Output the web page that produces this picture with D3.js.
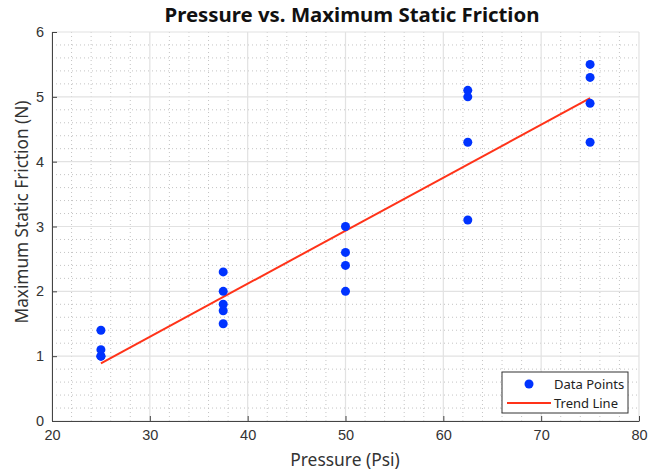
<!DOCTYPE html>
<html lang="en">
<head>
<meta charset="UTF-8">
<title>Pressure vs. Maximum Static Friction</title>
<script src="https://cdn.jsdelivr.net/npm/d3@7"></script>
<style>
  body { margin: 0; background: #fff; }
  svg { font-family: "Noto Sans", "Open Sans", sans-serif; }
</style>
</head>
<body>
<div id="chart"></div>
<script>
// data
const pressure = [25, 25, 25, 25, 37.5, 37.5, 37.5, 37.5, 37.5, 50, 50, 50, 50, 62.5, 62.5, 62.5, 62.5, 75, 75, 75, 75];
const friction = [1.0, 1.0, 1.1, 1.4, 1.5, 1.7, 1.8, 2.0, 2.3, 2.0, 2.4, 2.6, 3.0, 3.1, 4.3, 5.0, 5.1, 4.3, 4.9, 5.3, 5.5];
const trendX = [25, 75];
const trendY = [0.89, 4.98];
const xTicks = [20, 30, 40, 50, 60, 70, 80];
const yTicks = [0, 1, 2, 3, 4, 5, 6];

const w = 660, h = 473;
const m = {left: 52, right: 21, top: 32, bottom: 52};

const svg = d3.select("#chart").append("svg").attr("width", w).attr("height", h);

const x = d3.scaleLinear().domain([20, 80]).range([m.left, w - m.right]);
const y = d3.scaleLinear().domain([0, 6]).range([h - m.bottom, m.top]);

// minor grid (dotted)
const minorX = d3.range(20, 80.01, 2).filter(v => v % 10 !== 0);
const minorY = d3.range(0, 6.01, 0.2).filter(v => Math.abs(v - Math.round(v)) > 0.01);
const grid = svg.append("g");
grid.selectAll(".mx").data(minorX).enter().append("line")
  .attr("x1", d => x(d)).attr("x2", d => x(d))
  .attr("y1", y(0)).attr("y2", y(6))
  .attr("stroke", "#c4c4c4").attr("stroke-width", 1).attr("stroke-dasharray", "1,3");
grid.selectAll(".my").data(minorY).enter().append("line")
  .attr("x1", x(20)).attr("x2", x(80))
  .attr("y1", d => y(d)).attr("y2", d => y(d))
  .attr("stroke", "#c4c4c4").attr("stroke-width", 1).attr("stroke-dasharray", "1,3");
// major grid
grid.selectAll(".gx").data(xTicks).enter().append("line")
  .attr("x1", d => x(d)).attr("x2", d => x(d))
  .attr("y1", y(0)).attr("y2", y(6))
  .attr("stroke", "#e2e2e2").attr("stroke-width", 1.2);
grid.selectAll(".gy").data(yTicks).enter().append("line")
  .attr("x1", x(20)).attr("x2", x(80))
  .attr("y1", d => y(d)).attr("y2", d => y(d))
  .attr("stroke", "#e2e2e2").attr("stroke-width", 1.2);

// axes, ticks inside like matlab
const xAxis = svg.append("g")
  .attr("transform", "translate(0," + y(0) + ")")
  .call(d3.axisBottom(x).tickValues(xTicks).tickFormat(d3.format("d")).tickSizeInner(-5).tickSizeOuter(0).tickPadding(9));
const yAxis = svg.append("g")
  .attr("transform", "translate(" + x(20) + ",0)")
  .call(d3.axisLeft(y).tickValues(yTicks).tickFormat(d3.format("d")).tickSizeInner(-5).tickSizeOuter(0).tickPadding(8));
[xAxis, yAxis].forEach(a => {
  a.select(".domain").attr("stroke", "#444");
  a.selectAll(".tick line").attr("stroke", "#444");
  a.selectAll("text").attr("fill", "#333").style("font-size", "14.5px");
});

// trend line
svg.append("path")
  .datum(trendX.map((v, i) => [v, trendY[i]]))
  .attr("d", d3.line().x(d => x(d[0])).y(d => y(d[1])))
  .attr("fill", "none").attr("stroke", "#ff3319").attr("stroke-width", 2);

// points
svg.selectAll("circle.pt").data(pressure).enter().append("circle")
  .attr("class", "pt")
  .attr("cx", d => x(d))
  .attr("cy", (d, i) => y(friction[i]))
  .attr("r", 4.5)
  .attr("fill", "#0033ff");

// title + labels
svg.append("text").attr("x", 352).attr("y", 22).attr("text-anchor", "middle")
  .style("font-size", "20.4px").style("font-weight", "bold").attr("fill", "#111")
  .text("Pressure vs. Maximum Static Friction");
svg.append("text").attr("x", 345).attr("y", 466).attr("text-anchor", "middle")
  .style("font-size", "17.4px").attr("fill", "#333").text("Pressure (Psi)");
svg.append("text")
  .attr("transform", "translate(28,212) rotate(-90)")
  .attr("text-anchor", "middle")
  .style("font-size", "17.2px").attr("fill", "#333").text("Maximum Static Friction (N)");

// legend
const lg = svg.append("g").attr("transform", "translate(502,372)");
lg.append("rect").attr("width", 126).attr("height", 41)
  .attr("fill", "#fff").attr("stroke", "#333").attr("stroke-width", 1);
lg.append("circle").attr("cx", 27).attr("cy", 12).attr("r", 4.5).attr("fill", "#0033ff");
lg.append("line").attr("x1", 5).attr("x2", 49).attr("y1", 31).attr("y2", 31)
  .attr("stroke", "#ff3319").attr("stroke-width", 2);
lg.append("text").attr("x", 52).attr("y", 16.5).style("font-size", "13px").attr("fill", "#222").text("Data Points");
lg.append("text").attr("x", 52).attr("y", 35.5).style("font-size", "13px").attr("fill", "#222").text("Trend Line");
</script>
</body>
</html>
